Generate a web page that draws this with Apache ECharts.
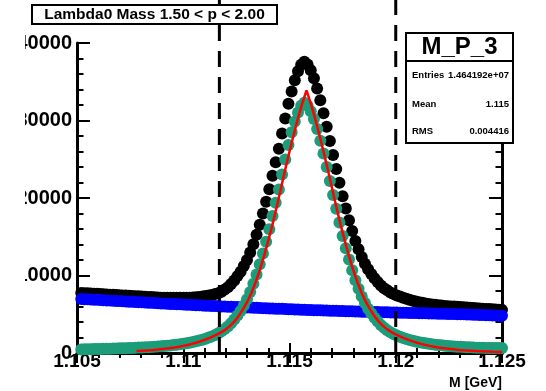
<!DOCTYPE html>
<html><head><meta charset="utf-8">
<script src="https://cdn.jsdelivr.net/npm/echarts@6/dist/echarts.min.js"></script>
<style>html,body{margin:0;padding:0;background:#fff;overflow:hidden}#c{width:546px;height:391px}</style>
</head><body><div id="c"></div>
<script>
// ---- data ----
const xMin = 1.105, xMax = 1.125, xStep = 0.005;
const yMin = 0, yMax = 40000, yStep = 10000;
const binStart = 1.1052, binWidth = 0.00015;  // histogram bin centres
const fitStart = 1.1078, fitStep = 0.0002;     // fit function sampling
const cutLines = [1.1117, 1.1200];
const cutTop = 45600;

const totalCounts = [
 7750,7725,7700,7675,7650,7630,7605,7580,7555,7530,
 7505,7480,7455,7435,7410,7385,7360,7335,7310,7285,
 7260,7235,7215,7190,7165,7140,7130,7125,7120,7120,
 7120,7120,7125,7130,7145,7165,7195,7230,7280,7340,
 7420,7500,7600,7720,7910,8195,8495,8910,9365,9920,
 10475,11220,12010,12970,14020,15265,16555,17990,19525,21135,
 22860,24600,26345,28330,30250,32155,33755,35190,36345,37185,
 37570,37225,36495,35460,34120,32605,30940,29180,27365,25555,
 23740,21955,20215,18630,17140,15755,14460,13380,12385,11525,
 10810,10195,9635,9175,8715,8365,8095,7815,7625,7425,
 7305,7140,6985,6860,6750,6640,6550,6470,6390,6325,
 6270,6220,6170,6120,6080,6045,6010,5985,5960,5950,
 5915,5880,5845,5810,5780,5750,5720,5690,5665,5640,
 5615,5590,5565];

const background = [
 6970,6945,6925,6915,6880,6855,6830,6810,6770,6765,
 6740,6715,6695,6670,6635,6625,6600,6580,6555,6535,
 6510,6485,6480,6440,6420,6395,6375,6355,6335,6315,
 6295,6285,6250,6230,6210,6190,6170,6150,6130,6100,
 6090,6070,6050,6030,6010,5995,5975,5970,5945,5925,
 5910,5890,5875,5860,5840,5825,5795,5790,5775,5755,
 5740,5720,5705,5700,5670,5655,5635,5620,5605,5585,
 5570,5555,5545,5530,5520,5505,5490,5470,5465,5455,
 5440,5425,5415,5400,5390,5375,5370,5350,5335,5325,
 5310,5295,5285,5275,5265,5250,5245,5235,5225,5215,
 5205,5190,5180,5170,5170,5150,5140,5130,5120,5110,
 5100,5085,5075,5055,5055,5045,5035,5025,5015,5005,
 4990,4970,4965,4940,4925,4910,4895,4880,4870,4845,
 4830,4815,4800];

const signal = [
 455,470,480,495,505,515,520,535,550,560,
 575,585,600,615,625,640,655,670,695,715,
 735,755,780,805,835,865,900,940,980,1020,
 1065,1120,1190,1260,1330,1415,1505,1605,1710,1850,
 1995,2145,2330,2540,2800,3100,3420,3850,4320,4845,
 5415,6130,6935,7860,8930,10140,11450,12850,14350,15980,
 17670,19380,21090,23040,24980,26850,28470,29870,31040,31900,
 32300,31920,31200,30180,28900,27400,25750,24000,22200,20400,
 18600,16830,15100,13530,12050,10680,9400,8280,7300,6450,
 5700,5100,4550,4050,3600,3260,2950,2680,2450,2260,
 2100,1950,1800,1690,1590,1490,1400,1325,1250,1180,
 1120,1075,1030,990,950,910,880,850,820,800,
 775,750,730,710,690,680,670,660,655,650,
 648,645,645];

const fitCurve = [
 250,280,315,355,400,450,505,570,640,720,
 810,920,1040,1180,1330,1500,1700,1900,2150,2400,
 2700,3050,3500,4050,4750,5600,6550,7700,9100,10700,
 12500,14500,16600,18900,21300,23700,26000,28200,30300,32200,
 33900,32200,30300,28200,26000,23700,21300,18900,16600,14500,
 12500,10700,9100,7700,6550,5600,4750,4050,3500,3050,
 2700,2400,2150,1900,1700,1500,1330,1180,1040,920,
 810,720,640,570,505,450,400,355,315,280,
 250,225,200,180,160,145,130];

const titleText = 'Lambda0 Mass 1.50 < p < 2.00';
const xTitle = 'M [GeV]';
const statsName = 'M_P_3';
const statsLabels = ['Entries', 'Mean', 'RMS'];
const statsValues = ['1.464192e+07', '1.115', '0.004416'];

// ---- build ----
const FONT = "'Liberation Sans', Arial, Helvetica, sans-serif";
const binX = totalCounts.map((_, i) => +(binStart + binWidth * i).toFixed(6));
const fitX = fitCurve.map((_, i) => +(fitStart + fitStep * i).toFixed(6));
const pairs = (xs, ys) => ys.map((y, i) => [xs[i], y]);

const chart = echarts.init(document.getElementById('c'), null, {renderer: 'canvas'});

const axisCommon = {
  axisLine: {show: true, lineStyle: {color: '#000', width: 3}},
  splitLine: {show: false}
};
const MS = 12;

const option = {
  animation: false,
  backgroundColor: '#fff',
  grid: {left: 77, right: 44, top: 43, bottom: 38, containLabel: false, outerBoundsMode: 'none'},
  xAxis: [
    Object.assign({
      type: 'value', position: 'bottom', min: xMin, max: xMax, interval: xStep,
      axisTick: {show: true, inside: true, length: 10, lineStyle: {color: '#000', width: 2}},
      minorTick: {show: true, splitNumber: 5, length: 5, lineStyle: {color: '#000', width: 2}},
      minorSplitLine: {show: false},
      axisLabel: {show: true, margin: -1, color: '#000', fontFamily: FONT, fontWeight: 'bold', fontSize: 19,
        showMinLabel: true, showMaxLabel: true,
        formatter: v => String(+(+v).toFixed(4))}
    }, axisCommon),
    Object.assign({
      type: 'value', position: 'top', min: xMin, max: xMax, interval: xStep,
      axisTick: {show: true, inside: true, length: 10, lineStyle: {color: '#000', width: 2}},
      minorTick: {show: true, splitNumber: 5, length: 5, lineStyle: {color: '#000', width: 2}},
      axisLabel: {show: false}
    }, axisCommon)
  ],
  yAxis: [
    Object.assign({
      type: 'value', position: 'left', min: yMin, max: yMax, interval: yStep,
      axisTick: {show: true, inside: true, length: 13, lineStyle: {color: '#000', width: 2}},
      minorTick: {show: true, splitNumber: 5, length: 6.5, lineStyle: {color: '#000', width: 2}},
      axisLabel: {show: true, margin: 5, color: '#000', fontFamily: FONT, fontWeight: 'bold', fontSize: 20,
        showMinLabel: true, showMaxLabel: true, formatter: v => String(Math.round(v))}
    }, axisCommon),
    Object.assign({
      type: 'value', position: 'right', min: yMin, max: yMax, interval: yStep,
      axisTick: {show: true, inside: true, length: 13, lineStyle: {color: '#000', width: 2}},
      minorTick: {show: true, splitNumber: 5, length: 6.5, lineStyle: {color: '#000', width: 2}},
      axisLabel: {show: false}
    }, axisCommon)
  ],
  series: [
    {type: 'scatter', name: 'total', data: pairs(binX, totalCounts), symbol: 'circle', symbolSize: MS,
     itemStyle: {color: '#000000', opacity: 1}, z: 2, silent: true},
    {type: 'scatter', name: 'background', data: pairs(binX, background), symbol: 'circle', symbolSize: MS,
     itemStyle: {color: '#0000ff', opacity: 1}, z: 3, silent: true},
    {type: 'scatter', name: 'signal', data: pairs(binX, signal), symbol: 'circle', symbolSize: MS,
     itemStyle: {color: '#1c9c79', opacity: 1}, z: 4, silent: true},
    {type: 'line', name: 'fit', data: pairs(fitX, fitCurve), showSymbol: false, symbol: 'none', smooth: false,
     lineStyle: {color: '#ff0000', width: 2.5}, z: 5, silent: true},
  ].concat(cutLines.map(c => ({
     type: 'line', data: [[c, 0], [c, cutTop]], showSymbol: false, symbol: 'none', clip: false,
     lineStyle: {color: '#000', width: 3, type: [16, 10]}, z: 6, silent: true
  }))),
  graphic: [
    // left margin clipping of the y labels, as in the reference
    {type: 'rect', z: 50, shape: {x: 0, y: 30, width: 25, height: 335}, style: {fill: '#fff'}, silent: true},
    // title box
    {type: 'rect', z: 60, shape: {x: 32, y: 5, width: 245, height: 19}, style: {fill: '#fff', stroke: '#000', lineWidth: 2}},
    {type: 'text', z: 61, x: 154.5, y: 14.5, style: {text: titleText, fill: '#000', font: 'bold 15.5px ' + FONT,
      align: 'center', verticalAlign: 'middle', textAlign: 'center', textVerticalAlign: 'middle'}},
    // stats box
    {type: 'rect', z: 60, shape: {x: 406, y: 33, width: 107, height: 110}, style: {fill: '#fff', stroke: '#000', lineWidth: 2}},
    {type: 'line', z: 61, shape: {x1: 406, y1: 61, x2: 513, y2: 61}, style: {stroke: '#000', lineWidth: 2}},
    {type: 'text', z: 61, x: 459.5, y: 47.5, style: {text: statsName, fill: '#000', font: 'bold 24px ' + FONT,
      align: 'center', verticalAlign: 'middle', textAlign: 'center', textVerticalAlign: 'middle'}}
  ].concat(statsLabels.map((t, i) => ({
      type: 'text', z: 61, x: 412, y: [75, 104, 131][i], style: {text: t, fill: '#000', font: 'bold 9.5px ' + FONT,
      align: 'left', verticalAlign: 'middle', textAlign: 'left', textVerticalAlign: 'middle'}
  }))).concat(statsValues.map((t, i) => ({
      type: 'text', z: 61, x: 509, y: [75, 104, 131][i], style: {text: t, fill: '#000', font: 'bold 9.5px ' + FONT,
      align: 'right', verticalAlign: 'middle', textAlign: 'right', textVerticalAlign: 'middle'}
  }))).concat([
    {type: 'text', z: 61, x: 502, y: 383, style: {text: xTitle, fill: '#000', font: 'bold 14px ' + FONT,
      align: 'right', verticalAlign: 'middle', textAlign: 'right', textVerticalAlign: 'middle'}}
  ])
};
chart.setOption(option);
</script>
</body></html>
